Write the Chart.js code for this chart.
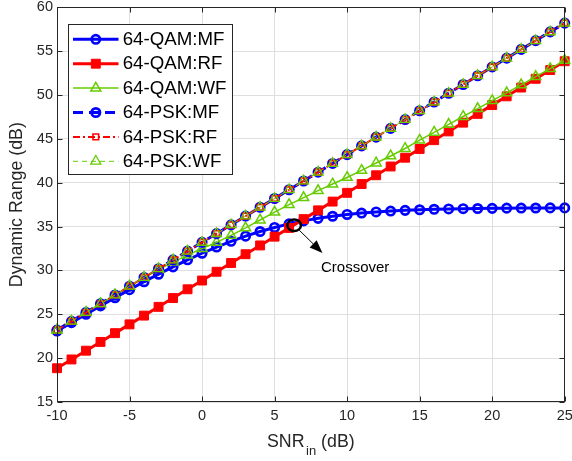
<!DOCTYPE html>
<html>
<head>
<meta charset="utf-8">
<script src="https://cdn.jsdelivr.net/npm/chart.js@4.4.1/dist/chart.umd.min.js"></script>
<style>
html,body{margin:0;padding:0;background:#ffffff;}
#wrap{position:relative;width:572px;height:461px;}
</style>
</head>
<body>
<div id="wrap"><canvas id="c" width="572" height="461"></canvas></div>
<script>
// ---------- data ----------
const snr = [-10,-9,-8,-7,-6,-5,-4,-3,-2,-1,0,1,2,3,4,5,6,7,8,9,10,11,12,13,14,15,16,17,18,19,20,21,22,23,24,25];

const qamMF = [23.09,24.05,25.01,25.96,26.89,27.81,28.71,29.57,30.41,31.21,31.96,32.67,33.32,33.91,34.44,34.90,35.31,35.65,35.94,36.18,36.38,36.54,36.67,36.77,36.85,36.92,36.97,37.01,37.04,37.06,37.08,37.10,37.11,37.12,37.13,37.13];
const qamRF = [18.85,19.85,20.85,21.85,22.85,23.85,24.85,25.85,26.85,27.85,28.85,29.85,30.85,31.85,32.85,33.85,34.85,35.85,36.85,37.85,38.85,39.85,40.85,41.85,42.85,43.85,44.85,45.85,46.85,47.85,48.85,49.85,50.85,51.85,52.85,53.85];
const qamWF = [23.2,24.2,25.2,26.2,27.2,28.2,29.15,30.1,30.95,31.75,32.5,33.2,34.0,34.85,35.75,36.65,37.5,38.3,39.1,39.85,40.6,41.4,42.25,43.05,43.9,44.85,45.75,46.65,47.55,48.45,49.35,50.25,51.15,52.1,53.0,53.95];
const pskMF = [23.2,24.2,25.2,26.2,27.2,28.2,29.2,30.2,31.2,32.2,33.2,34.2,35.2,36.2,37.2,38.2,39.2,40.2,41.2,42.2,43.2,44.2,45.2,46.2,47.2,48.2,49.2,50.2,51.2,52.2,53.2,54.2,55.2,56.2,57.2,58.2];
const pskRF = [23.2,24.2,25.2,26.2,27.2,28.2,29.2,30.2,31.2,32.2,33.2,34.2,35.2,36.2,37.2,38.2,39.2,40.2,41.2,42.2,43.2,44.2,45.2,46.2,47.2,48.2,49.2,50.2,51.2,52.2,53.2,54.2,55.2,56.2,57.2,58.2];
const pskWF = [23.2,24.2,25.2,26.2,27.2,28.2,29.2,30.2,31.2,32.2,33.2,34.2,35.2,36.2,37.2,38.2,39.2,40.2,41.2,42.2,43.2,44.2,45.2,46.2,47.2,48.2,49.2,50.2,51.2,52.2,53.2,54.2,55.2,56.2,57.2,58.2];

const seriesNames = ['64-QAM:MF','64-QAM:RF','64-QAM:WF','64-PSK:MF','64-PSK:RF','64-PSK:WF'];
const xTicks = [-10,-5,0,5,10,15,20,25];
const yTicks = [15,20,25,30,35,40,45,50,55,60];
const xTitleMain = 'SNR';
const xTitleSub = 'in';
const xTitleUnit = ' (dB)';
const yTitle = 'Dynamic Range (dB)';

// annotation anchor (data coordinates)
const crossPoint = {x: 6.35, y: 35.15};
const arrowTip = {x: 8.3, y: 32.0};
const crossLabel = {text: 'Crossover', x: 8.2, y: 30.3};

// ---------- styling ----------
const FONT = '"Liberation Sans", Arial, Helvetica, sans-serif';
const AX = '#262626';
const BLUE = '#0000ff', RED = '#ff0000', GREEN = '#66cc00';

function pts(ys){ return snr.map((x,i)=>({x:x, y:ys[i]})); }

const datasets = [
  {label: seriesNames[0], data: pts(qamMF), borderColor: BLUE, borderWidth: 3, borderDash: [],
   pointStyle: 'circle', pointRadius: 4.2, pointBorderWidth: 2.7, pointBackgroundColor: 'rgba(0,0,0,0)', pointBorderColor: BLUE, order: 6},
  {label: seriesNames[1], data: pts(qamRF), borderColor: RED, borderWidth: 3, borderDash: [],
   pointStyle: 'rect', pointRadius: 6.3, pointBorderWidth: 1, pointBackgroundColor: RED, pointBorderColor: RED, order: 5},
  {label: seriesNames[2], data: pts(qamWF), borderColor: GREEN, borderWidth: 1.5, borderDash: [],
   pointStyle: 'triangle', pointRadius: 5.8, pointBorderWidth: 1.5, pointBackgroundColor: 'rgba(0,0,0,0)', pointBorderColor: GREEN, order: 4},
  {label: seriesNames[3], data: pts(pskMF), borderColor: BLUE, borderWidth: 3, borderDash: [10,6],
   pointStyle: 'circle', pointRadius: 4.2, pointBorderWidth: 2.7, pointBackgroundColor: 'rgba(0,0,0,0)', pointBorderColor: BLUE, order: 3},
  {label: seriesNames[4], data: pts(pskRF), borderColor: RED, borderWidth: 2, borderDash: [7,3,2,3],
   pointStyle: 'rect', pointRadius: 4, pointBorderWidth: 1.6, pointBackgroundColor: 'rgba(0,0,0,0)', pointBorderColor: RED, order: 2},
  {label: seriesNames[5], data: pts(pskWF), borderColor: GREEN, borderWidth: 1, borderDash: [5,4],
   pointStyle: 'triangle', pointRadius: 5.8, pointBorderWidth: 1.3, pointBackgroundColor: 'rgba(0,0,0,0)', pointBorderColor: GREEN, order: 1}
];
datasets.forEach(d => { d.fill = false; d.tension = 0; d.clip = false; d.pointHoverRadius = d.pointRadius; });

function drawMarker(ctx, style, x, y, r, fill, stroke, lw){
  ctx.save();
  ctx.setLineDash([]);
  ctx.beginPath();
  if (style === 'circle') ctx.arc(x, y, r, 0, Math.PI*2);
  else if (style === 'rect') { const s = Math.SQRT1_2*r; ctx.rect(x-s, y-s, 2*s, 2*s); }
  else if (style === 'triangle') {
    let a = 0;
    ctx.moveTo(x + Math.sin(a)*r, y - Math.cos(a)*r);
    a += 2*Math.PI/3; ctx.lineTo(x + Math.sin(a)*r, y - Math.cos(a)*r);
    a += 2*Math.PI/3; ctx.lineTo(x + Math.sin(a)*r, y - Math.cos(a)*r);
    ctx.closePath();
  }
  if (fill && fill !== 'rgba(0,0,0,0)') { ctx.fillStyle = fill; ctx.fill(); }
  ctx.lineWidth = lw; ctx.strokeStyle = stroke; ctx.stroke();
  ctx.restore();
}

const framePlugin = {
  id: 'frame',
  afterDatasetsDraw(chart){
    const {ctx, chartArea: a, scales: {x, y}} = chart;
    ctx.save();
    // crossover annotation
    const cx = x.getPixelForValue(crossPoint.x), cy = y.getPixelForValue(crossPoint.y);
    ctx.strokeStyle = '#000'; ctx.lineWidth = 2.5; ctx.setLineDash([]);
    ctx.beginPath(); ctx.ellipse(cx, cy, 6.8, 5.8, 0, 0, Math.PI*2); ctx.stroke();
    const tx = x.getPixelForValue(arrowTip.x), ty = y.getPixelForValue(arrowTip.y);
    const dx = tx - cx, dy = ty - cy, L = Math.hypot(dx, dy), ux = dx/L, uy = dy/L;
    const sx = cx + ux*7, sy = cy + uy*7;
    const hl = 13, hw = 5;
    ctx.lineWidth = 1;
    ctx.beginPath(); ctx.moveTo(sx, sy); ctx.lineTo(tx - ux*hl, ty - uy*hl); ctx.stroke();
    ctx.fillStyle = '#000';
    ctx.beginPath();
    ctx.moveTo(tx, ty);
    ctx.lineTo(tx - ux*hl - uy*hw, ty - uy*hl + ux*hw);
    ctx.lineTo(tx - ux*hl + uy*hw, ty - uy*hl - ux*hw);
    ctx.closePath(); ctx.fill();
    ctx.font = '15px ' + FONT; ctx.fillStyle = '#000'; ctx.textAlign = 'left'; ctx.textBaseline = 'middle';
    ctx.fillText(crossLabel.text, x.getPixelForValue(crossLabel.x), y.getPixelForValue(crossLabel.y));

    // axes box and inward ticks
    ctx.strokeStyle = AX; ctx.lineWidth = 1;
    const L0 = Math.round(a.left)+0.5, R0 = Math.round(a.right)-0.5, T0 = Math.round(a.top)+0.5, B0 = Math.round(a.bottom)-0.5;
    ctx.strokeRect(L0, T0, R0-L0, B0-T0);
    const tl = 5;
    ctx.beginPath();
    xTicks.forEach(v => { const px = Math.round(x.getPixelForValue(v))+0.5; ctx.moveTo(px, B0); ctx.lineTo(px, B0-tl); ctx.moveTo(px, T0); ctx.lineTo(px, T0+tl); });
    yTicks.forEach(v => { const py = Math.round(y.getPixelForValue(v))+0.5; ctx.moveTo(L0, py); ctx.lineTo(L0+tl, py); ctx.moveTo(R0, py); ctx.lineTo(R0-tl, py); });
    ctx.stroke();
    ctx.restore();
  },
  afterDraw(chart){
    const {ctx, chartArea: a} = chart;
    ctx.save();
    // legend
    const box = {left: 68, top: 24, right: 233, bottom: 175};
    ctx.fillStyle = '#fff'; ctx.fillRect(box.left, box.top, box.right-box.left, box.bottom-box.top);
    ctx.strokeStyle = AX; ctx.lineWidth = 1; ctx.setLineDash([]);
    ctx.strokeRect(box.left+0.5, box.top+0.5, box.right-box.left-1, box.bottom-box.top-1);
    chart.data.datasets.forEach((d, i) => {
      const yy = box.top + 15.3 + i*24.4;
      ctx.save();
      ctx.strokeStyle = d.borderColor; ctx.lineWidth = d.borderWidth; ctx.setLineDash(d.borderDash || []);
      ctx.beginPath(); ctx.moveTo(73, yy); ctx.lineTo(118.5, yy); ctx.stroke();
      ctx.restore();
      drawMarker(ctx, d.pointStyle, 95.8, yy, d.pointRadius, d.pointBackgroundColor, d.pointBorderColor, d.pointBorderWidth);
      ctx.font = '18.7px ' + FONT; ctx.fillStyle = '#000'; ctx.textAlign = 'left'; ctx.textBaseline = 'middle';
      ctx.fillText(d.label, 122.7, yy + 0.5);
    });
    // axis titles
    ctx.fillStyle = AX;
    ctx.textBaseline = 'alphabetic'; ctx.textAlign = 'left';
    const fMain = '17.8px ' + FONT, fSub = '13px ' + FONT;
    ctx.font = fMain; const w1 = ctx.measureText(xTitleMain).width, w3 = ctx.measureText(xTitleUnit).width;
    ctx.font = fSub; const w2 = ctx.measureText(xTitleSub).width;
    const total = w1 + 1.5 + w2 + w3;
    let sx = (a.left + a.right)/2 - total/2;
    ctx.font = fMain; ctx.fillText(xTitleMain, sx, 447);
    ctx.font = fSub; ctx.fillText(xTitleSub, sx + w1 + 1.5, 455);
    ctx.font = fMain; ctx.fillText(xTitleUnit, sx + w1 + 1.5 + w2, 447);
    ctx.translate(17.5, (a.top + a.bottom)/2);
    ctx.rotate(-Math.PI/2);
    ctx.textAlign = 'center'; ctx.textBaseline = 'middle';
    ctx.font = fMain;
    ctx.fillText(yTitle, 0, 0);
    ctx.restore();
  }
};

new Chart(document.getElementById('c'), {
  type: 'line',
  data: {datasets: datasets},
  options: {
    responsive: false,
    animation: false,
    devicePixelRatio: 1,
    layout: {padding: {top: 7, right: 7, left: 0, bottom: 0}},
    plugins: {legend: {display: false}, tooltip: {enabled: false}, title: {display: false}},
    elements: {line: {borderCapStyle: 'butt', borderJoinStyle: 'miter'}},
    scales: {
      x: {
        type: 'linear', min: -10, max: 25,
        afterBuildTicks: s => { s.ticks = xTicks.map(v => ({value: v})); },
        afterFit: s => { s.height = 59; s.paddingLeft = 0; s.paddingRight = 0; },
        ticks: {font: {family: FONT, size: 14.5}, color: AX, padding: 5, maxRotation: 0, autoSkip: false},
        grid: {color: '#dfdfdf', lineWidth: 1, drawTicks: false},
        border: {display: false}
      },
      y: {
        type: 'linear', min: 15, max: 60,
        afterBuildTicks: s => { s.ticks = yTicks.map(v => ({value: v})); },
        afterFit: s => { s.width = 57; s.paddingTop = 0; s.paddingBottom = 0; },
        ticks: {font: {family: FONT, size: 14.5}, color: AX, padding: 4, autoSkip: false},
        grid: {color: '#dfdfdf', lineWidth: 1, drawTicks: false},
        border: {display: false}
      }
    }
  },
  plugins: [framePlugin]
});
</script>
</body>
</html>
